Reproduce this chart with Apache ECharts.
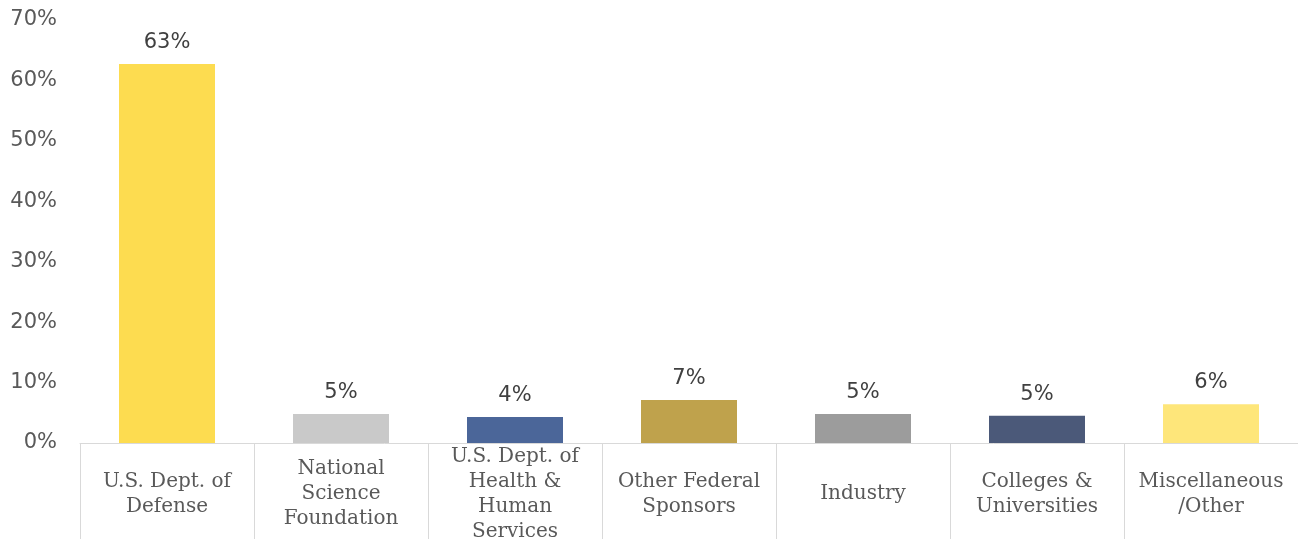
<!DOCTYPE html>
<html><head><meta charset="utf-8">
<script src="https://cdn.jsdelivr.net/npm/echarts@6/dist/echarts.min.js"></script>
<style>html,body{margin:0;padding:0;background:#fff}#c{width:1298px;height:539px}</style>
</head><body><div id="c"></div>
<script>
const categories = ["U.S. Dept. of\nDefense", "National\nScience\nFoundation", "U.S. Dept. of\nHealth &\nHuman\nServices", "Other Federal\nSponsors", "Industry", "Colleges &\nUniversities", "Miscellaneous\n/Other"];
const values = [62.7, 4.8, 4.3, 7.1, 4.8, 4.5, 6.4];
const colors = ["#FDDC50", "#C9C9C9", "#4B6699", "#BFA24C", "#9C9C9C", "#4B5979", "#FEE67A"];
const yTicks = [0, 10, 20, 30, 40, 50, 60, 70];

const chart = echarts.init(document.getElementById('c'));
chart.setOption({
  animation: false,
  grid: {left: 80, right: 0, top: 20, bottom: 96, outerBoundsMode: 'none', containLabel: false},
  xAxis: {
    type: 'category', data: categories,
    axisLine: {lineStyle: {color: '#D9D9D9', width: 1}},
    axisTick: {show: true, length: 96, alignWithLabel: false, lineStyle: {color: '#D9D9D9'}},
    axisLabel: {interval: 0, fontFamily: 'DejaVu Serif', fontSize: 20, color: '#595959', lineHeight: 25, verticalAlign: 'middle', margin: 51}
  },
  yAxis: {
    type: 'value', min: yTicks[0], max: yTicks[yTicks.length-1], interval: 10,
    splitLine: {show: false}, axisLine: {show: false}, axisTick: {show: false},
    axisLabel: {formatter: v => v + '%', fontFamily: 'DejaVu Sans', fontSize: 21, color: '#595959', margin: 23}
  },
  series: [{
    type: 'bar', barWidth: 96,
    data: values.map((v, i) => ({value: v, itemStyle: {color: colors[i]}})),
    label: {show: true, position: 'top', distance: 11, formatter: p => Math.round(p.value) + '%', fontFamily: 'DejaVu Sans', fontSize: 21, color: '#404040'}
  }]
});
</script></body></html>
